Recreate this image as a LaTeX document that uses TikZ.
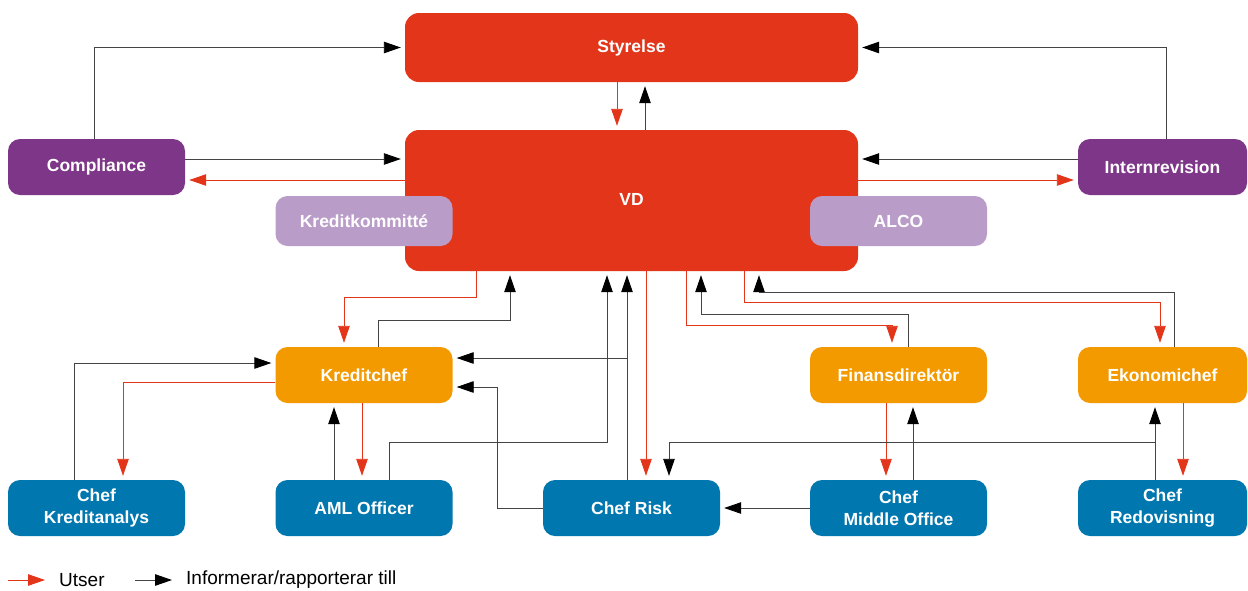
\documentclass[tikz,border=0pt]{standalone}
\usepackage{fontspec}
\setmainfont{Liberation Sans}
\usetikzlibrary{arrows.meta}
\definecolor{vdred}{HTML}{E3351A}
\definecolor{ctrlpurple}{HTML}{7E3788}
\definecolor{cmtlilac}{HTML}{BA9CC8}
\definecolor{mgrorange}{HTML}{F39A00}
\definecolor{staffblue}{HTML}{0077AE}
\definecolor{linkgray}{HTML}{444444}
\tikzset{
  unit/.style={rounded corners=12pt, inner sep=0pt, text=white,
    font=\bfseries\fontsize{17.5}{22.5}\selectfont, align=center,
    minimum width=177pt, minimum height=56pt},
  board/.style={unit, fill=vdred, minimum width=453pt, rounded corners=14pt},
  control/.style={unit, fill=ctrlpurple},
  committee/.style={unit, fill=cmtlilac, minimum height=50pt},
  manager/.style={unit, fill=mgrorange},
  staff/.style={unit, fill=staffblue},
  ut/.style={draw=vdred, line width=0.9pt,
    -{Triangle[length=17pt,width=11.5pt]}, shorten >=4pt},
  inf/.style={draw=linkgray, line width=0.9pt,
    -{Triangle[length=17pt,width=11.5pt,fill=black,color=black]}, shorten >=4pt},
  legend/.style={anchor=west, inner sep=0pt, font=\fontsize{19}{21}\selectfont}
}
\begin{document}
\begin{tikzpicture}[x=1pt,y=-1pt]
\useasboundingbox (0,0) rectangle (1248,590);

% top level
\node[board, minimum height=69pt] (sty) at (631.5,47.5) {Styrelse};
\node[board, minimum height=141pt] (vd) at (631.5,200.5) {};
\node[font=\bfseries\fontsize{17.5}{20}\selectfont, text=white] (vdlabel) at (631.5,199) {VD};
\node[control] (comp) at (96.5,167) {Compliance};
\node[control, minimum width=169pt] (intr) at (1162.5,167) {Internrevision};
\node[committee] (kk) at (364,221) {Kreditkommitté};
\node[committee] (alco) at (898.5,221) {ALCO};

% managers
\node[manager] (kc) at (364,375) {Kreditchef};
\node[manager] (fd) at (898.5,375) {Finansdirektör};
\node[manager, minimum width=169pt] (ek) at (1162.5,375) {Ekonomichef};

% staff
\node[staff] (ka) at (96.5,508) {Chef\\Kreditanalys};
\node[staff] (aml) at (364,508) {AML Officer};
\node[staff] (risk) at (631.5,508) {Chef Risk};
\node[staff] (mo) at (898.5,508) {Chef\\Middle Office};
\node[staff, minimum width=169pt] (redv) at (1162.5,508) {Chef\\Redovisning};

% board level
\draw[inf] (comp.north -| 94,0) |- (sty.west);
\draw[inf] (intr.north -| 1166,0) |- (sty.east);
\draw[inf] (comp.east |- 0,159) -- (vd.west |- 0,159);
\draw[ut] (vd.west |- 0,180) -- (comp.east |- 0,180);
\draw[inf] (intr.west |- 0,159) -- (vd.east |- 0,159);
\draw[ut] (vd.east |- 0,180) -- (intr.west |- 0,180);
\draw[ut] (sty.south -| 617,0) -- (vd.north -| 617,0);
\draw[inf] (vd.north -| 645,0) -- (sty.south -| 645,0);

% VD and Kreditchef
\draw[ut] (vd.south -| 476,0) |- (344,297) -- (kc.north -| 344,0);
\draw[inf] (kc.north -| 378,0) |- (510,320) -- (vd.south -| 510,0);
\draw[inf] (aml.north -| 389,0) |- (607,442) -- (vd.south -| 607,0);
\draw[inf] (risk.north -| 627,0) -- (vd.south -| 627,0);
\coordinate (riskjoin) at (627,358);
\draw[inf] (riskjoin) -- (kc.east |- riskjoin);
\draw[ut] (vd.south -| 646,0) -- (risk.north -| 646,0);
\draw[inf] (risk.west) -| (497,387) -- (kc.east |- 0,387);

% VD, Finansdirektör and Ekonomichef
\draw[ut] (vd.south -| 686,0) |- (892,325) -- (fd.north -| 892,0);
\draw[inf] (fd.north -| 908,0) |- (701,314) -- (vd.south -| 701,0);
\draw[ut] (vd.south -| 744,0) |- (1160,302) -- (ek.north -| 1160,0);
\draw[inf] (ek.north -| 1174,0) |- (759,292) -- (vd.south -| 759,0);

% managers and their staff
\draw[inf] (ka.north -| 74,0) |- (kc.west |- 0,363);
\draw[ut] (kc.west |- 0,382) -| (ka.north -| 123,0);
\draw[inf] (aml.north -| 334,0) -- (kc.south -| 334,0);
\draw[ut] (kc.south -| 362,0) -- (aml.north -| 362,0);
\draw[ut] (fd.south -| 886,0) -- (mo.north -| 886,0);
\draw[inf] (mo.north -| 913,0) -- (fd.south -| 913,0);
\draw[inf] (mo.west) -- (risk.east);
\draw[ut] (ek.south -| 1183,0) -- (redv.north -| 1183,0);
\draw[inf] (redv.north -| 1155,0) -- (ek.south -| 1155,0);
\coordinate (redvjoin) at (1155,442);
\draw[inf] (redvjoin) -| (risk.north -| 669,0);

% legend
\coordinate (lutA) at (8,580);
\coordinate (lutB) at (49,580);
\draw[ut] (lutA) -- (lutB);
\node[legend] (lut) at (59,580) {Utser};
\coordinate (linfA) at (135,580);
\coordinate (linfB) at (176,580);
\draw[inf] (linfA) -- (linfB);
\node[legend] (linf) at (186,580) {Informerar/rapporterar till};
\end{tikzpicture}
\end{document}
